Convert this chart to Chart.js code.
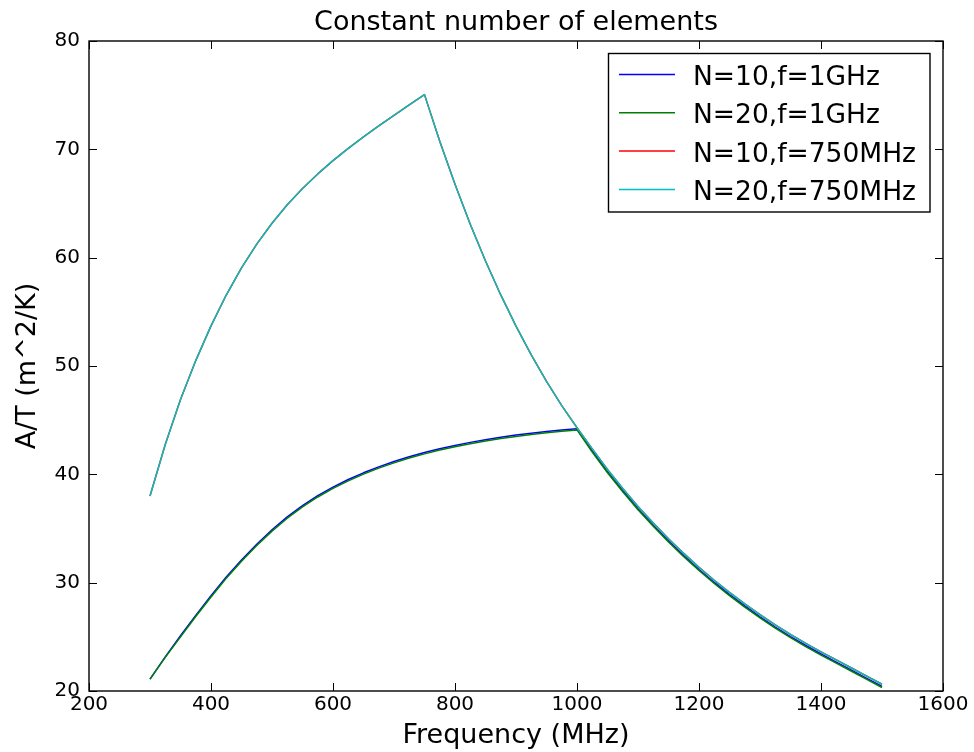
<!DOCTYPE html>
<html>
<head>
<meta charset="utf-8">
<title>Constant number of elements</title>
<script src="https://cdn.jsdelivr.net/npm/chart.js@4"></script>
<style>
  html, body { margin: 0; padding: 0; background: #fff; }
  canvas { display: block; }
</style>
</head>
<body>
<canvas id="atChart" width="974" height="752"></canvas>
<script>
// frequency samples (MHz), shared by all four curves
var freq = [300, 325, 350, 375, 400, 425, 450, 475, 500, 525, 550, 575, 600, 625, 650, 675, 700, 725,
            750, 775, 800, 825, 850, 875, 900, 925, 950, 975, 1000, 1025, 1050, 1075, 1100, 1125,
            1150, 1175, 1200, 1225, 1250, 1275, 1300, 1325, 1350, 1375, 1400, 1425, 1450, 1475, 1500];

// A/T (m^2/K)
var n10f1000 = [21.1, 23.15, 25.1, 26.98, 28.8, 30.52, 32.1, 33.55, 34.88, 36.07, 37.12, 38.03, 38.82, 39.52, 40.14, 40.69, 41.18, 41.62,
                42.01, 42.36, 42.67, 42.95, 43.2, 43.42, 43.62, 43.8, 43.96, 44.09, 44.2, 42.15, 40.25, 38.5, 36.83, 35.3,
                33.85, 32.5, 31.22, 30.02, 28.9, 27.85, 26.85, 25.9, 25.02, 24.2, 23.42, 22.67, 21.92, 21.17, 20.42];
var n20f1000 = [21.1, 23.1, 25.0, 26.87, 28.68, 30.4, 31.98, 33.43, 34.76, 35.95, 37.0, 37.91, 38.7, 39.4, 40.02, 40.57, 41.06, 41.5,
                41.89, 42.24, 42.55, 42.83, 43.08, 43.3, 43.5, 43.68, 43.84, 43.97, 44.1, 42.05, 40.15, 38.4, 36.73, 35.2,
                33.75, 32.4, 31.12, 29.92, 28.8, 27.75, 26.75, 25.8, 24.92, 24.1, 23.32, 22.57, 21.82, 21.07, 20.32];
var n10f750  = [38.0, 42.75, 46.9, 50.5, 53.7, 56.55, 59.05, 61.25, 63.18, 64.88, 66.38, 67.73, 68.96, 70.09, 71.15, 72.16, 73.14, 74.1,
                75.05, 70.75, 66.77, 63.09, 59.69, 56.56, 53.68, 51.03, 48.59, 46.34, 44.3, 42.35, 40.45, 38.7, 37.03, 35.5,
                34.05, 32.7, 31.42, 30.22, 29.1, 28.05, 27.05, 26.1, 25.22, 24.4, 23.62, 22.87, 22.12, 21.37, 20.62];
var n20f750  = [38.0, 42.75, 46.9, 50.5, 53.7, 56.55, 59.05, 61.25, 63.18, 64.88, 66.38, 67.73, 68.96, 70.09, 71.15, 72.16, 73.14, 74.1,
                75.05, 70.75, 66.77, 63.09, 59.69, 56.56, 53.68, 51.03, 48.59, 46.34, 44.3, 42.35, 40.45, 38.7, 37.03, 35.5,
                34.05, 32.7, 31.42, 30.22, 29.1, 28.05, 27.05, 26.1, 25.22, 24.4, 23.62, 22.87, 22.12, 21.37, 20.62];

var seriesLabels = ['N=10,f=1GHz', 'N=20,f=1GHz', 'N=10,f=750MHz', 'N=20,f=750MHz'];
var seriesColors = ['#0000ff', '#008000', '#ff0000', '#00bfbf'];
var seriesValues = [n10f1000, n20f1000, n10f750, n20f750];

var FONT = 'DejaVu Sans';

function points(vals) {
  return freq.map(function (f, i) { return { x: f, y: vals[i] }; });
}

function plainTick(v) { return String(v); }

// black box around the plot with inward tick marks on all four sides
var frameTicks = {
  id: 'frameTicks',
  afterDatasetsDraw: function (chart) {
    var ctx = chart.ctx, a = chart.chartArea;
    var xs = chart.scales.x, ys = chart.scales.y;
    ctx.save();
    ctx.strokeStyle = '#000';
    ctx.lineWidth = 1;
    ctx.beginPath();
    xs.ticks.forEach(function (t) {
      var px = Math.round(xs.getPixelForValue(t.value)) + 0.5;
      ctx.moveTo(px, a.bottom); ctx.lineTo(px, a.bottom - 8);
      ctx.moveTo(px, a.top); ctx.lineTo(px, a.top + 8);
    });
    ys.ticks.forEach(function (t) {
      var py = Math.round(ys.getPixelForValue(t.value)) + 0.5;
      ctx.moveTo(a.left, py); ctx.lineTo(a.left + 8, py);
      ctx.moveTo(a.right, py); ctx.lineTo(a.right - 8, py);
    });
    ctx.stroke();
    ctx.lineWidth = 1.4;
    ctx.strokeRect(a.left, a.top, a.right - a.left, a.bottom - a.top);
    ctx.restore();
  }
};

// boxed legend in the upper right corner
var boxLegend = {
  id: 'boxLegend',
  afterDraw: function (chart) {
    var ctx = chart.ctx;
    var left = 608.5, top = 53.5, w = 321.5, h = 158.5;
    ctx.save();
    ctx.fillStyle = '#fff';
    ctx.fillRect(left, top, w, h);
    ctx.strokeStyle = '#000';
    ctx.lineWidth = 1.4;
    ctx.strokeRect(left, top, w, h);
    ctx.font = '26.5px "' + FONT + '"';
    ctx.textBaseline = 'alphabetic';
    ctx.textAlign = 'left';
    chart.data.datasets.forEach(function (ds, i) {
      var y = 74.5 + i * 38.3;
      ctx.strokeStyle = ds.borderColor;
      ctx.lineWidth = 1.5;
      ctx.beginPath();
      ctx.moveTo(619, y);
      ctx.lineTo(675, y);
      ctx.stroke();
      ctx.fillStyle = '#000';
      ctx.fillText(ds.label, 693, y + 10.5);
    });
    ctx.restore();
  }
};

var ctx = document.getElementById('atChart').getContext('2d');
var atChart = new Chart(ctx, {
  type: 'line',
  data: {
    datasets: seriesLabels.map(function (lbl, i) {
      return {
        label: lbl,
        data: points(seriesValues[i]),
        borderColor: seriesColors[i],
        backgroundColor: seriesColors[i],
        borderWidth: 1.5,
        borderJoinStyle: 'round',
        pointRadius: 0,
        tension: 0,
        fill: false,
        order: seriesLabels.length - i   // later series drawn on top
      };
    })
  },
  options: {
    responsive: false,
    animation: false,
    devicePixelRatio: 1,
    layout: { padding: 0 },
    plugins: {
      legend: { display: false },
      tooltip: { enabled: false },
      title: { display: false }
    },
    scales: {
      x: {
        type: 'linear',
        position: 'bottom',
        min: 200,
        max: 1600,
        grid: { display: false, drawTicks: false },
        border: { display: false },
        ticks: {
          stepSize: 200,
          maxRotation: 0,
          autoSkip: false,
          padding: 2,
          color: '#000',
          font: { family: FONT, size: 20 },
          callback: plainTick
        },
        title: {
          display: true,
          text: 'Frequency (MHz)',
          color: '#000',
          font: { family: FONT, size: 27, lineHeight: 1.2 },
          padding: { top: 0, bottom: 0 }
        },
        afterFit: function (scale) { scale.height = 61; }
      },
      // top axis only carries the chart title, centred over the plot
      xTop: {
        type: 'linear',
        axis: 'x',
        position: 'top',
        min: 200,
        max: 1600,
        grid: { display: false, drawTicks: false },
        border: { display: false },
        ticks: { display: false },
        title: {
          display: true,
          text: 'Constant number of elements',
          color: '#000',
          font: { family: FONT, size: 27, lineHeight: 1.2 },
          padding: { top: 6.3, bottom: 0 }
        },
        afterFit: function (scale) { scale.height = 41; }
      },
      y: {
        type: 'linear',
        position: 'left',
        min: 20,
        max: 80,
        grid: { display: false, drawTicks: false },
        border: { display: false },
        ticks: {
          stepSize: 10,
          padding: 9,
          color: '#000',
          font: { family: FONT, size: 20 },
          callback: plainTick
        },
        title: {
          display: true,
          text: 'A/T (m^2/K)',
          color: '#000',
          font: { family: FONT, size: 27, lineHeight: 1.2 },
          padding: { top: 12, bottom: 0 }
        },
        afterFit: function (scale) { scale.width = 89; }
      },
      // right-hand spacer
      yRight: {
        type: 'linear',
        axis: 'y',
        position: 'right',
        min: 20,
        max: 80,
        grid: { display: false, drawTicks: false },
        border: { display: false },
        ticks: { display: false },
        afterFit: function (scale) { scale.width = 31; }
      }
    }
  },
  plugins: [frameTicks, boxLegend]
});
</script>
</body>
</html>
